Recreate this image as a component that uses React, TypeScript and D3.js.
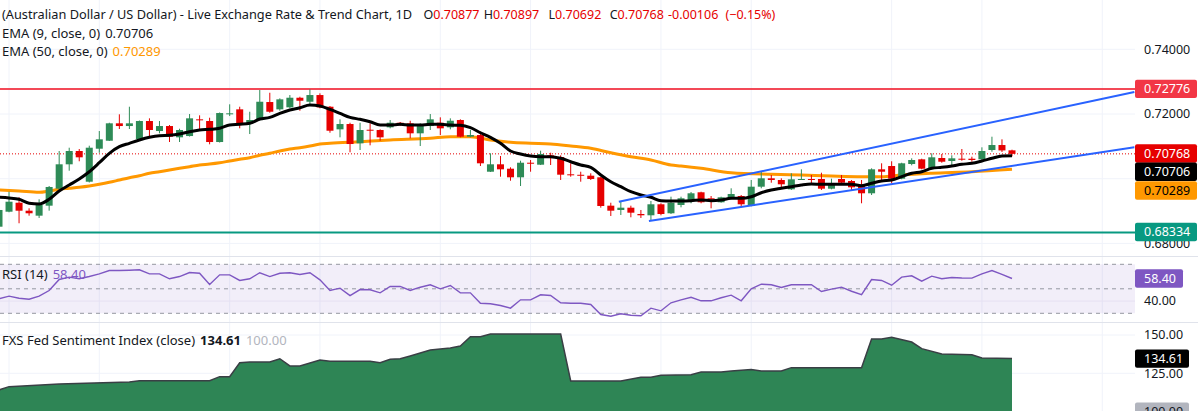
import React from 'react';
import * as d3 from 'd3';

// ---------- data ----------
const opens = [0.68516,0.6898,0.69258,0.69011,0.68857,0.69166,0.69691,0.70445,0.70856,0.69907,0.70927,0.71174,0.71712,0.71628,0.71227,0.71783,0.71474,0.71628,0.71279,0.71319,0.71835,0.71783,0.71134,0.7199,0.72144,0.71712,0.71814,0.7237,0.72144,0.72206,0.72503,0.72379,0.72586,0.72225,0.71526,0.7169,0.71094,0.71514,0.71505,0.71588,0.7173,0.71712,0.71403,0.71628,0.7173,0.71588,0.71814,0.71298,0.7135,0.70216,0.70445,0.70309,0.70043,0.70494,0.70433,0.70723,0.70671,0.70136,0.70121,0.70093,0.70043,0.69166,0.69033,0.69104,0.68909,0.68869,0.69209,0.68931,0.69187,0.69342,0.6958,0.69394,0.69271,0.69413,0.69465,0.69156,0.69753,0.70012,0.6996,0.69672,0.69969,0.69991,0.69991,0.69691,0.69991,0.69929,0.69774,0.69549,0.7029,0.70392,0.7,0.70454,0.70599,0.70309,0.7064,0.70547,0.70618,0.70618,0.70599,0.70887,0.71041,0.70877];
const highs = [0.69051,0.69598,0.69425,0.69085,0.69363,0.69774,0.70856,0.70958,0.70918,0.7102,0.71474,0.7173,0.7199,0.72225,0.71798,0.71866,0.71783,0.71659,0.71545,0.71999,0.71959,0.71885,0.72046,0.72299,0.72225,0.7207,0.72741,0.72657,0.72484,0.72586,0.72534,0.72762,0.72639,0.72246,0.71835,0.7173,0.7173,0.71712,0.71526,0.71814,0.71752,0.71792,0.71712,0.71999,0.71897,0.71866,0.71835,0.71505,0.71452,0.70785,0.70701,0.70352,0.70556,0.70578,0.70865,0.70803,0.70723,0.70476,0.70216,0.70167,0.70053,0.69258,0.69289,0.69166,0.69033,0.69311,0.6924,0.69444,0.69444,0.69589,0.69598,0.69465,0.69444,0.69703,0.69496,0.6996,0.70216,0.70114,0.70012,0.70167,0.7029,0.70114,0.70185,0.7,0.70114,0.6996,0.6996,0.70321,0.70476,0.70538,0.70494,0.7063,0.70618,0.70785,0.70763,0.70723,0.70918,0.7068,0.7097,0.71298,0.71217,0.70897];
const lows = [0.68446,0.68962,0.68622,0.68857,0.68786,0.69011,0.69651,0.70247,0.70538,0.69883,0.70803,0.71165,0.71536,0.71536,0.71211,0.71298,0.71403,0.71134,0.71134,0.71304,0.71505,0.71063,0.71119,0.71937,0.71557,0.71381,0.71798,0.72039,0.72101,0.72175,0.72101,0.72308,0.72175,0.71421,0.71279,0.70816,0.70887,0.71032,0.71174,0.71557,0.71628,0.71248,0.7101,0.71505,0.7135,0.71526,0.71279,0.71279,0.70392,0.70207,0.70062,0.69938,0.69774,0.70216,0.70423,0.70423,0.6996,0.70062,0.69907,0.6996,0.69104,0.68847,0.68878,0.68807,0.68786,0.68702,0.68869,0.68909,0.69116,0.6924,0.6924,0.69085,0.69258,0.69363,0.69135,0.69147,0.69703,0.69876,0.69734,0.69651,0.6996,0.69858,0.69651,0.69672,0.69836,0.69651,0.6924,0.69496,0.6996,0.69858,0.69981,0.70414,0.7029,0.7029,0.70494,0.70392,0.70556,0.70525,0.70578,0.70834,0.70825,0.70692];
const closes = [0.69033,0.69289,0.69011,0.68931,0.69187,0.69744,0.70445,0.70856,0.70661,0.70958,0.71217,0.71712,0.71628,0.71712,0.71783,0.71505,0.71628,0.71298,0.71505,0.71866,0.71814,0.71134,0.7203,0.72021,0.71659,0.71814,0.72379,0.7207,0.72453,0.72503,0.7241,0.72586,0.72206,0.71483,0.7169,0.71072,0.71505,0.71496,0.71279,0.7173,0.71659,0.71403,0.71628,0.71835,0.71557,0.71792,0.71298,0.7135,0.70476,0.70445,0.7029,0.70043,0.70494,0.70479,0.70763,0.70661,0.70124,0.70114,0.70105,0.69991,0.69156,0.69011,0.69104,0.68949,0.68869,0.69209,0.68909,0.69258,0.69394,0.69549,0.69271,0.69363,0.69425,0.69527,0.69209,0.69753,0.70012,0.6996,0.69827,0.69981,0.69991,0.6996,0.69691,0.69805,0.69876,0.69734,0.69549,0.7029,0.70216,0.7,0.70476,0.70578,0.70309,0.70661,0.70525,0.7063,0.70599,0.70578,0.70856,0.71041,0.70874,0.70768];

const ema9 = [0.69425,0.69404,0.69363,0.6924,0.69218,0.69363,0.6962,0.69805,0.69991,0.70216,0.70494,0.70785,0.70989,0.71094,0.71196,0.71279,0.71329,0.71341,0.71381,0.71452,0.71505,0.71526,0.71557,0.71659,0.71681,0.71712,0.71845,0.71897,0.72021,0.72123,0.72194,0.72277,0.72246,0.72144,0.72021,0.71897,0.71835,0.71761,0.71659,0.71659,0.71681,0.71659,0.71659,0.71681,0.71681,0.71659,0.7165,0.71576,0.71421,0.71279,0.71094,0.70856,0.70763,0.70701,0.7068,0.7068,0.7063,0.70525,0.70423,0.70352,0.70114,0.69907,0.69753,0.69598,0.69496,0.69425,0.6932,0.69311,0.69311,0.6932,0.69342,0.6932,0.69342,0.69394,0.69394,0.69444,0.69567,0.69651,0.69703,0.69753,0.69805,0.69836,0.69827,0.69827,0.69827,0.69827,0.69784,0.69858,0.69929,0.6996,0.70062,0.70167,0.70216,0.70321,0.70352,0.70392,0.70445,0.70476,0.70547,0.7063,0.70701,0.70706];

const ema50Idx = [0,2,4,5,6,7,8,9,10,11,12,13,14,15,16,17,18,19,20,21,22,23,24,25,26,27,28,29,30,31,32,33,36,39,43,45,47,49,51,53,55,57,59,61,63,65,67,68,70,73,77,80,83,86,88,90,93,97,101];
const ema50Val = [0.69651,0.6962,0.6958,0.6962,0.69672,0.69703,0.69734,0.69774,0.69827,0.69888,0.6996,0.70031,0.70093,0.70167,0.70216,0.70269,0.70321,0.70371,0.70423,0.70454,0.70494,0.70547,0.70599,0.70649,0.70723,0.70785,0.70856,0.70918,0.70958,0.7101,0.71072,0.71094,0.71143,0.71196,0.71248,0.71298,0.71298,0.71196,0.71125,0.71094,0.71072,0.7101,0.70939,0.70803,0.7068,0.70578,0.70423,0.70392,0.70321,0.70185,0.70136,0.70114,0.70083,0.70062,0.70062,0.70114,0.70167,0.70216,0.70289];

const rsi14 = [41.8,44.0,42.3,41.5,44.0,48.6,57.6,59.5,58.2,60.0,62.2,64.9,64.9,65.2,65.5,62.2,62.2,58.2,60.0,63.3,62.7,53.5,61.4,61.4,56.8,58.2,63.1,60.0,62.7,63.1,61.7,63.1,57.3,48.6,50.5,44.5,49.4,49.2,46.7,51.9,51.9,48.6,51.3,53.3,50.0,52.7,46.7,46.7,38.2,37.8,36.4,34.2,41.0,41.0,45.1,44.5,38.6,38.2,38.2,37.2,29.0,27.6,29.6,28.4,28.0,34.2,32.0,38.6,40.9,43.1,40.2,40.2,42.7,44.8,40.2,50.0,53.8,53.3,51.1,53.3,53.3,53.3,47.8,49.7,51.3,48.0,45.3,57.6,56.8,52.9,59.5,60.6,56.2,60.3,58.2,59.2,58.8,58.7,62.2,64.9,61.7,58.4];

const sentIdx = [0,1,6,13,14,21,22,23,24,25,27,28,29,30,32,33,37,38,39,40,41,43,45,46,47,48,49,56,57,62,64,65,66,69,70,72,73,75,76,78,79,86,87,88,89,91,92,94,97,98,101];
const sentVal = [114.1,116.3,118.0,119.3,120.2,120.2,122.8,122.8,131.9,132.4,132.4,134.5,129.8,129.8,133.7,132.8,132.8,131.9,134.1,134.5,136.3,140.2,141.5,142.8,148.9,148.9,150.6,150.6,120.0,120.0,122.4,122.4,123.7,124.1,125.8,125.8,126.5,127.4,126.5,126.5,128.7,128.7,147.4,147.4,148.5,145.4,141.1,137.6,137.1,135.0,134.61];

const gridIdx = [1, 10, 23, 32, 44, 53, 66, 75, 89, 98, 110];
const priceTicks = [0.74, 0.72, 0.7, 0.68];
const priceTickLabels = [0.74, 0.72, 0.68];
const rsiBands = [70, 50, 30];
const rsiTicks = [40];
const sentTicks = [150, 125, 100];
const resistance = 0.72776;
const support = 0.68334;
const channelUpperIdx = [61.8, 113.2];
const channelUpperVal = [0.69289, 0.72679];
const channelLowerIdx = [64.8, 113.2];
const channelLowerVal = [0.68693, 0.7097];

// ---------- styles ----------
const W = 1198;
const H = 411;
const PLOT_R = 1135;
const UP = '#2e8b57';
const DOWN = '#e60000';
const TXT = '#131722';
const FONT = "'Noto Sans', sans-serif";

export default function App() {
  const x = d3.scaleLinear().domain([0, 101]).range([-1, 1012]);
  const y = d3.scaleLinear().domain([0.68, 0.74]).range([243.4, 49.3]);
  const yR = d3.scaleLinear().domain([30, 70]).range([313.3, 264.3]);
  const yS = d3.scaleLinear().domain([100, 150]).range([411.6, 335]);

  const last = closes.length - 1;
  const bw = 7;

  const ema9Line = d3.line<number>().x((_, i) => x(i)).y((d) => y(d)).curve(d3.curveMonotoneX)(ema9) || '';
  const ema50Line = d3.line<number>().x((_, i) => x(ema50Idx[i])).y((d) => y(d)).curve(d3.curveMonotoneX)(ema50Val) || '';
  const rsiLine = d3.line<number>().x((_, i) => x(i)).y((d) => yR(d))(rsi14) || '';
  const sentArea = d3.area<number>().x((_, i) => x(sentIdx[i])).y0(H + 5).y1((d) => yS(d))(sentVal) || '';
  const sentLine = d3.line<number>().x((_, i) => x(sentIdx[i])).y((d) => yS(d))(sentVal) || '';

  const fmt5 = d3.format('.5f');
  const fmt2 = d3.format('.2f');

  const change = closes[last] - closes[last - 1];
  const pct = (change / closes[last - 1]) * 100;

  const boxes = [
    { v: resistance, cy: y(resistance), fill: '#f23645', txt: '#fff' },
    { v: closes[last], cy: 153.5, fill: DOWN, txt: '#fff' },
    { v: ema9[last], cy: 171.8, fill: '#000', txt: '#fff' },
    { v: ema50Val[ema50Val.length - 1], cy: 190.5, fill: '#ff9800', txt: '#000' },
    { v: support, cy: 232, fill: '#089981', txt: '#fff' },
  ];

  const ohlc = [
    { k: 'O', v: fmt5(opens[last]), x: 423.5 },
    { k: 'H', v: fmt5(highs[last]), x: 483.7 },
    { k: 'L', v: fmt5(lows[last]), x: 548.5 },
    { k: 'C', v: fmt5(closes[last]), x: 609.7 },
  ];

  return (
    <svg
      width={W}
      height={H}
      style={{ position: 'absolute', left: 0, top: 0, background: '#fff', fontFamily: FONT }}
    >
      <rect x={0} y={0} width={W} height={H} fill="#fff" />
      <defs>
        <clipPath id="plot">
          <rect x={0} y={0} width={PLOT_R} height={256} />
        </clipPath>
      </defs>

      {/* vertical grid */}
      {gridIdx.map((g) => (
        <line key={'g' + g} x1={x(g)} x2={x(g)} y1={0} y2={H} stroke="#f0f3fa" strokeWidth={1} />
      ))}
      {/* horizontal grid */}
      {priceTicks.map((t) => (
        <line key={'h' + t} x1={0} x2={PLOT_R} y1={y(t)} y2={y(t)} stroke="#f0f3fa" strokeWidth={1} />
      ))}
      {sentTicks.map((t) => (
        <line key={'sh' + t} x1={0} x2={PLOT_R} y1={yS(t)} y2={yS(t)} stroke="#f0f3fa" strokeWidth={1} />
      ))}

      {/* panel separators */}
      <line x1={0} x2={W} y1={256.5} y2={256.5} stroke="#e0e3eb" strokeWidth={1} />
      <line x1={0} x2={W} y1={322.5} y2={322.5} stroke="#e0e3eb" strokeWidth={1} />

      <g clipPath="url(#plot)">
        {/* support / resistance */}
        <line x1={0} x2={PLOT_R} y1={y(resistance)} y2={y(resistance)} stroke="#f23645" strokeWidth={2} opacity={0.9} />
        <line x1={0} x2={PLOT_R} y1={y(support)} y2={y(support)} stroke="#089981" strokeWidth={2} />
        {/* last price dotted */}
        <line x1={0} x2={PLOT_R} y1={y(closes[last])} y2={y(closes[last])} stroke={DOWN} strokeWidth={1} strokeDasharray="1,2" />

        {/* EMA 50 */}
        <path d={ema50Line} fill="none" stroke="#ff9800" strokeWidth={3} />

        {/* candles */}
        {closes.map((c, i) => {
          const o = opens[i];
          const up = c >= o;
          const col = up ? UP : DOWN;
          const top = y(Math.max(o, c));
          const bot = y(Math.min(o, c));
          const cx = x(i);
          return (
            <g key={'c' + i}>
              <line x1={cx} x2={cx} y1={y(highs[i])} y2={y(lows[i])} stroke={col} strokeWidth={1} />
              <rect x={cx - bw / 2} y={top} width={bw} height={Math.max(1, bot - top)} fill={col} />
            </g>
          );
        })}

        {/* EMA 9 */}
        <path d={ema9Line} fill="none" stroke="#000" strokeWidth={3} strokeLinejoin="round" />

        {/* channel */}
        <line x1={x(channelUpperIdx[0])} y1={y(channelUpperVal[0])} x2={x(channelUpperIdx[1])} y2={y(channelUpperVal[1])} stroke="#2962ff" strokeWidth={2} />
        <line x1={x(channelLowerIdx[0])} y1={y(channelLowerVal[0])} x2={x(channelLowerIdx[1])} y2={y(channelLowerVal[1])} stroke="#2962ff" strokeWidth={2} />
      </g>

      {/* RSI panel */}
      <rect x={0} y={yR(70)} width={PLOT_R} height={yR(30) - yR(70)} fill="#7e57c2" opacity={0.1} />
      {rsiTicks.map((t) => (
        <line key={'rt' + t} x1={0} x2={PLOT_R} y1={yR(t)} y2={yR(t)} stroke="#e6e1f2" strokeWidth={1} />
      ))}
      {rsiBands.map((b) => (
        <line key={'rb' + b} x1={0} x2={PLOT_R} y1={yR(b)} y2={yR(b)} stroke="#9598a1" strokeWidth={1} strokeDasharray="4,4" />
      ))}
      <path d={rsiLine} fill="none" stroke="#7e57c2" strokeWidth={1.4} />

      {/* Sentiment panel */}
      <path d={sentArea} fill="#2e8555" />
      <path d={sentLine} fill="none" stroke="#3a3f45" strokeWidth={1.5} />

      {/* Legends */}
      <text x={2} y={19} fontSize={13} fill={TXT} textLength={410} lengthAdjust="spacingAndGlyphs">
        (Australian Dollar / US Dollar) - Live Exchange Rate &amp; Trend Chart, 1D
      </text>
      {ohlc.map((o) => (
        <text key={o.k} x={o.x} y={19} fontSize={12.5} fill={TXT}>
          <tspan>{o.k}</tspan>
          <tspan fill={DOWN}>{o.v}</tspan>
        </text>
      ))}
      <text x={668} y={19} fontSize={12.5} fill={DOWN}>
        {(change < 0 ? '-' : '+') + fmt5(Math.abs(change))}
      </text>
      <text x={725.5} y={19} fontSize={12.5} fill={DOWN}>
        {'(' + (pct < 0 ? '\u2212' : '+') + fmt2(Math.abs(pct)) + '%)'}
      </text>
      <text x={2} y={37.5} fontSize={13} fill={TXT}>
        <tspan>EMA (9, close, 0)</tspan>
        <tspan dx={5}>{fmt5(ema9[last])}</tspan>
      </text>
      <text x={2} y={56} fontSize={13} fill={TXT}>
        <tspan>EMA (50, close, 0)</tspan>
        <tspan dx={5} fill="#ff9800">{fmt5(ema50Val[ema50Val.length - 1])}</tspan>
      </text>
      <text x={2} y={279} fontSize={13} fill={TXT}>
        <tspan>RSI (14)</tspan>
        <tspan dx={5} fill="#7e57c2">{fmt2(rsi14[last])}</tspan>
      </text>
      <text x={2} y={345} fontSize={13} fill={TXT}>
        <tspan>FXS Fed Sentiment Index (close)</tspan>
        <tspan dx={5} fontWeight="bold">{fmt2(sentVal[sentVal.length - 1])}</tspan>
        <tspan dx={5} fill="#b2b5be">{fmt2(100)}</tspan>
      </text>

      {/* price axis */}
      {priceTickLabels.map((t) => (
        <text key={'pt' + t} x={1144} y={y(t)} dy="0.35em" fontSize={12.5} fill={TXT}>
          {fmt5(t)}
        </text>
      ))}
      {rsiTicks.map((t) => (
        <text key={'rtx' + t} x={1144} y={yR(t)} dy="0.35em" fontSize={12.5} fill={TXT}>
          {fmt2(t)}
        </text>
      ))}
      {sentTicks.slice(0, 2).map((t) => (
        <text key={'stx' + t} x={1144} y={yS(t)} dy="0.35em" fontSize={12.5} fill={TXT}>
          {fmt2(t)}
        </text>
      ))}

      {boxes.map((b, k) => (
        <g key={'bx' + k}>
          <rect x={PLOT_R} y={b.cy - 9.2} width={62} height={18.4} rx={2} fill={b.fill} />
          <text x={1144} y={b.cy} dy="0.35em" fontSize={12.5} fill={b.txt}>
            {fmt5(b.v)}
          </text>
        </g>
      ))}
      {/* RSI value box */}
      <rect x={PLOT_R} y={yR(rsi14[last]) - 9.2} width={48} height={18.4} rx={2} fill="#7e57c2" />
      <text x={1144} y={yR(rsi14[last])} dy="0.35em" fontSize={12.5} fill="#fff">
        {fmt2(rsi14[last])}
      </text>
      {/* sentiment value boxes */}
      <rect x={PLOT_R} y={yS(sentVal[sentVal.length - 1]) - 9.2} width={54} height={18.4} rx={2} fill="#000" />
      <text x={1144} y={yS(sentVal[sentVal.length - 1])} dy="0.35em" fontSize={12.5} fill="#fff">
        {fmt2(sentVal[sentVal.length - 1])}
      </text>
      <rect x={PLOT_R} y={yS(100) - 9.2} width={54} height={18.4} rx={2} fill="#b2b5be" />
      <text x={1144} y={yS(100)} dy="0.35em" fontSize={12.5} fill={TXT}>
        {fmt2(100)}
      </text>
    </svg>
  );
}
